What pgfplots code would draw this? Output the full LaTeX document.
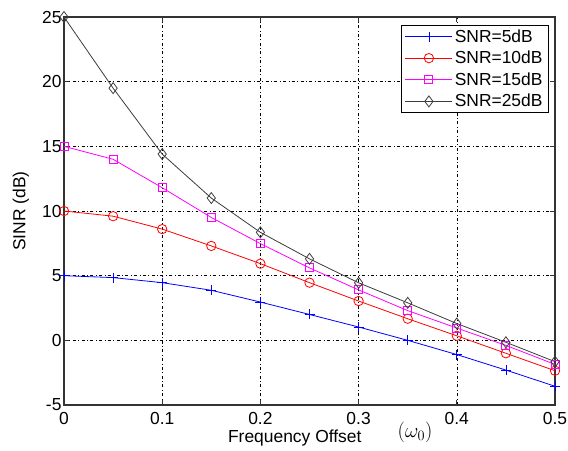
\documentclass[border=0pt]{standalone}
\usepackage{fontspec}
\setmainfont{Liberation Sans}
\usepackage{pgfplots}
\pgfplotsset{compat=1.18}
\definecolor{mblue}{RGB}{0,0,255}
\definecolor{mred}{RGB}{255,0,0}
\definecolor{mmag}{RGB}{255,0,255}
\definecolor{mgray}{RGB}{60,60,60}

\begin{document}
\begin{tikzpicture}
\begin{axis}[
  scale only axis, width=491bp, height=388bp,
  xmin=0, xmax=0.5, ymin=-5, ymax=25,
  xtick={0,0.1,0.2,0.3,0.4,0.5},
  xticklabels={0,0.1,0.2,0.3,0.4,0.5},
  ytick={-5,0,5,10,15,20,25},
  grid=major,
  major grid style={black, line width=0.6pt, dash pattern=on 3pt off 2.5pt on 0.8pt off 2.5pt},
  axis line style={line width=1.1pt, black!80},
  tick style={black!80, line width=0.9pt},
  tick align=inside, major tick length=5bp,
  font=\fontsize{17.5}{20}\selectfont,
  /pgf/number format/assume math mode=true,
  yticklabel style={xshift=1bp},
  xticklabel style={yshift=-4bp},
  ylabel={SINR (dB)},
  xlabel={Frequency Offset},
  ylabel style={at={(axis description cs:-0.088,0.5)}, anchor=center},
  xlabel style={at={(axis description cs:0.47,-0.085)}, anchor=center},
  clip=false,
  legend cell align=left,
  legend style={at={(rel axis cs:1,1)}, anchor=north east, xshift=-6bp, yshift=-8bp,
    draw=black, line width=1pt, inner xsep=4bp, inner ysep=2bp,
    row sep=3.5bp, font=\fontsize{17.5}{20}\selectfont},
  legend image code/.code={\draw[mark repeat=2,mark phase=2] plot coordinates {(0bp,0bp) (23.5bp,0bp) (47bp,0bp)};},
  every axis plot/.append style={line width=0.8pt},
]
\addplot[mblue, mark=+, mark size=5bp, mark options={mblue}] coordinates {
(0,5) (0.05,4.85) (0.1,4.46) (0.15,3.87) (0.2,2.96) (0.25,2.0) (0.3,1.03) (0.35,0) (0.4,-1.1) (0.45,-2.3) (0.5,-3.55)};
\addlegendentry{SNR=5dB}
\addplot[mred, mark=o, mark size=4.7bp, mark options={mred}] coordinates {
(0,10) (0.05,9.6) (0.1,8.6) (0.15,7.3) (0.2,5.93) (0.25,4.46) (0.3,3.04) (0.35,1.67) (0.4,0.35) (0.45,-1.0) (0.5,-2.35)};
\addlegendentry{SNR=10dB}
\addplot[mmag, mark=square, mark size=4bp, mark options={mmag, line width=0.9pt}] coordinates {
(0,15) (0.05,14) (0.1,11.8) (0.15,9.5) (0.2,7.48) (0.25,5.6) (0.3,3.9) (0.35,2.3) (0.4,0.95) (0.45,-0.39) (0.5,-1.86)};
\addlegendentry{SNR=15dB}
\addplot[mgray, mark=diamond, mark size=5.5bp, mark options={mgray}] coordinates {
(0,25) (0.05,19.5) (0.1,14.4) (0.15,11) (0.2,8.35) (0.25,6.3) (0.3,4.45) (0.35,2.9) (0.4,1.3) (0.45,-0.15) (0.5,-1.65)};
\addlegendentry{SNR=25dB}
\node[font=\fontsize{20}{24}\selectfont] at (axis description cs:0.715,-0.07) {$(\omega_0)$};
\coordinate (sw) at (rel axis cs:0,0);
\coordinate (ne) at (rel axis cs:1,1);
\end{axis}
\pgfresetboundingbox
\path[use as bounding box] ([shift={(-64bp,-45bp)}]sw) rectangle ([shift={(13bp,17bp)}]ne);
\end{tikzpicture}
\end{document}
